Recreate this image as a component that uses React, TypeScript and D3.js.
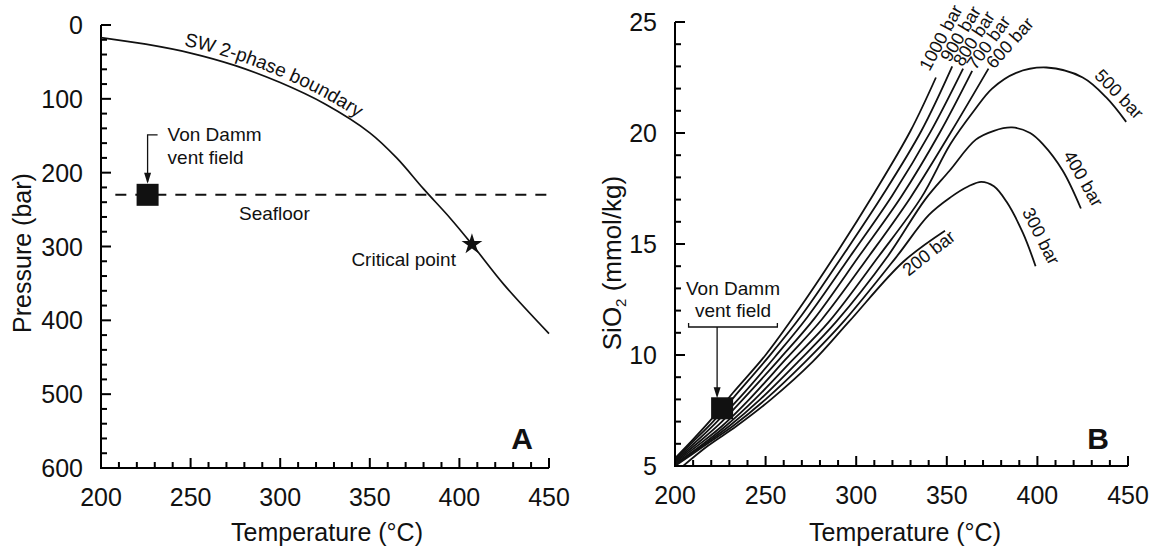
import React, { useEffect, useRef } from "react";
import * as d3 from "d3";

const W = 1156;
const H = 548;
const FONT = '"Liberation Sans", Arial, Helvetica, sans-serif';
const INK = "#111";

// ---- panel A: seawater 2-phase boundary ----
const boundaryT = [200, 225, 250, 275, 300, 325, 350, 365, 380, 395, 407, 425, 450];
const boundaryP = [17, 26, 38, 55, 78, 107, 146, 180, 222, 262, 297, 352, 418];
const seafloorP = 230;
const seafloorT = [208, 451];
const ventT = 226;
const ventP = 230;
const criticalT = 407;
const criticalP = 297;

const tempTicks = [200, 250, 300, 350, 400, 450];
const pressureTicks = [0, 100, 200, 300, 400, 500, 600];
const silicaTicks = [5, 10, 15, 20, 25];

// ---- panel B: SiO2 (mmol/kg) vs temperature, one curve per pressure ----
const bar1000 = [[200, 5.35], [210, 6.2], [220, 7.1], [232, 8.3], [250, 10.0], [267, 11.9], [290, 14.7], [310, 17.3], [330, 20.1], [344, 22.5]];
const bar900 = [[200, 5.3], [210, 6.1], [221, 7.0], [233, 8.15], [252, 9.95], [270, 11.8], [294, 14.65], [315, 17.25], [336, 20.1], [353, 23.0]];
const bar800 = [[200, 5.25], [211, 6.05], [222, 6.9], [236, 8.1], [255, 9.9], [273, 11.7], [298, 14.6], [320, 17.2], [341, 20.05], [359, 22.9]];
const bar700 = [[200, 5.2], [212, 6.0], [224, 6.85], [238, 8.05], [258, 9.85], [277, 11.65], [302, 14.5], [325, 17.15], [346, 20.0], [364, 22.8]];
const bar600 = [[200, 5.15], [213, 5.95], [226, 6.8], [241, 8.0], [261, 9.8], [281, 11.6], [307, 14.45], [330, 17.1], [352, 20.0], [373, 22.9]];
const bar500 = [[200, 5.1], [214, 5.9], [228, 6.8], [244, 8.0], [264, 9.7], [285, 11.5], [312, 14.4], [336, 17.1], [352, 19.5], [365, 21.0], [375, 22.0], [388, 22.7], [405, 22.95], [425, 22.5], [438, 21.6], [449, 20.5]];
const bar400 = [[200, 5.05], [215, 5.9], [230, 6.8], [247, 8.0], [268, 9.7], [289, 11.5], [317, 14.4], [338, 17.0], [351.5, 18.3], [366, 19.7], [376, 20.1], [386, 20.25], [396, 20.0], [403, 19.5], [414, 18.3], [424, 16.6]];
const bar300 = [[200, 5.0], [216, 5.9], [232, 6.8], [250, 8.0], [272, 9.7], [293, 11.5], [322, 14.4], [340, 16.3], [352, 17.1], [362, 17.6], [369, 17.8], [376, 17.6], [383, 16.9], [392, 15.5], [399, 14.0]];
const bar200 = [[203, 4.9], [218, 5.9], [234, 6.8], [253, 8.0], [276, 9.7], [296, 11.5], [326, 14.2], [349, 15.6]];

const curvesB = [bar1000, bar900, bar800, bar700, bar600, bar500, bar400, bar300, bar200];
const curveNames = ["1000 bar", "900 bar", "800 bar", "700 bar", "600 bar", "500 bar", "400 bar", "300 bar", "200 bar"];
const labelT = [340.5, 351.8, 358.6, 365.8, 376, 431, 414, 391.3, 328.8];
const labelS = [22.75, 23.15, 22.95, 22.8, 22.85, 22.55, 19.0, 16.45, 13.53];
const labelAngle = [-62, -59, -57, -54, -48, 46, 60, 63, -38];

const ventBT = 226;
const ventBS = 7.6;
const bracketT = [207.5, 256.5];

// axis line plus inward major / minor ticks and labels
function drawAxes(g, x, y, xMinor, yMinor, xTicks, yTicks) {
  const bottom = Math.max(...y.range());
  const top = Math.min(...y.range());
  const left = x.range()[0];
  const right = x.range()[1];

  const xt = xMinor.map((d) => ({ p: x(d), len: xTicks.indexOf(d) >= 0 ? 10 : 6 }));
  const yt = yMinor.map((d) => ({ p: y(d), len: yTicks.indexOf(d) >= 0 ? 10 : 6 }));

  g.append("g").selectAll("rect")
    .data(xt)
    .join("rect")
    .attr("x", (d) => d.p - 1).attr("y", (d) => bottom - d.len)
    .attr("width", 2).attr("height", (d) => d.len)
    .attr("fill", "#000");

  g.append("g").selectAll("rect")
    .data(yt)
    .join("rect")
    .attr("x", left).attr("y", (d) => d.p - 1)
    .attr("width", (d) => d.len).attr("height", 2)
    .attr("fill", "#000");

  g.append("path")
    .attr("d", `M${left},${top} V${bottom} H${right}`)
    .attr("fill", "none").attr("stroke", "#000").attr("stroke-width", 2);

  g.append("g").selectAll("text")
    .data(xTicks)
    .join("text")
    .attr("x", (d) => x(d)).attr("y", bottom + 38)
    .attr("text-anchor", "middle")
    .attr("font-family", FONT).attr("font-size", 25).attr("fill", INK)
    .text((d) => d);

  g.append("g").selectAll("text")
    .data(yTicks)
    .join("text")
    .attr("x", left - 18).attr("y", (d) => y(d) + 9)
    .attr("text-anchor", "end")
    .attr("font-family", FONT).attr("font-size", 25).attr("fill", INK)
    .text((d) => d);
}

function arrowHead(g, x, y) {
  g.append("path")
    .attr("d", `M${x},${y} L${x - 3.5},${y - 11} L${x + 3.5},${y - 11} Z`)
    .attr("fill", INK);
}

export default function App() {
  const svgRef = useRef(null);

  useEffect(() => {
    const svg = d3.select(svgRef.current);
    svg.selectAll("*").remove();

    // ================= panel A =================
    const xA = d3.scaleLinear().domain([200, 450]).range([101, 549]);
    const yA = d3.scaleLinear().domain([0, 600]).range([25, 468]);
    const gA = svg.append("g");

    drawAxes(gA, xA, yA, d3.range(200, 451, 10), d3.range(0, 601, 20), tempTicks, pressureTicks);

    const boundary = boundaryT.map((t, i) => [t, boundaryP[i]]);
    const lineA = d3.line().x((d) => xA(d[0])).y((d) => yA(d[1])).curve(d3.curveCatmullRom.alpha(0.5));
    gA.append("path").attr("d", lineA(boundary)).attr("fill", "none").attr("stroke", INK).attr("stroke-width", 1.7);

    // label following the boundary
    const labelLine = d3.line().x((d) => xA(d[0])).y((d) => yA(d[1]) - 6).curve(d3.curveCatmullRom.alpha(0.5));
    const guide = gA.append("path").attr("id", "swGuide").attr("d", labelLine(boundary)).attr("fill", "none").attr("stroke", "none");
    const node = guide.node();
    let start = 0;
    const total = node.getTotalLength();
    while (start < total && node.getPointAtLength(start).x < 183) start += 1;
    gA.append("text")
      .attr("font-family", FONT).attr("font-size", 19).attr("fill", INK)
      .append("textPath").attr("href", "#swGuide").attr("startOffset", start)
      .text("SW 2-phase boundary");

    // seafloor
    gA.append("line")
      .attr("x1", xA(seafloorT[0])).attr("x2", xA(seafloorT[1]))
      .attr("y1", yA(seafloorP)).attr("y2", yA(seafloorP))
      .attr("stroke", INK).attr("stroke-width", 2).attr("stroke-dasharray", "11,9");
    gA.append("text")
      .attr("x", xA(277)).attr("y", yA(seafloorP) + 25)
      .attr("font-family", FONT).attr("font-size", 19).attr("fill", INK)
      .text("Seafloor");

    // Von Damm marker
    const vx = xA(ventT);
    const vy = yA(ventP);
    gA.append("rect").attr("x", vx - 11).attr("y", vy - 11).attr("width", 22).attr("height", 22).attr("fill", INK);
    gA.append("path")
      .attr("d", `M${vx + 10},${vy - 60} H${vx} V${vy - 13}`)
      .attr("fill", "none").attr("stroke", INK).attr("stroke-width", 1.3);
    arrowHead(gA, vx, vy - 11);
    gA.append("text").attr("x", vx + 20).attr("y", vy - 54)
      .attr("font-family", FONT).attr("font-size", 19).attr("fill", INK).text("Von Damm");
    gA.append("text").attr("x", vx + 20).attr("y", vy - 31)
      .attr("font-family", FONT).attr("font-size", 19).attr("fill", INK).text("vent field");

    // critical point
    gA.append("path")
      .attr("d", d3.symbol().type(d3.symbolStar).size(135)())
      .attr("transform", `translate(${xA(criticalT)},${yA(criticalP)})`)
      .attr("fill", INK);
    gA.append("text")
      .attr("x", xA(criticalT) - 16).attr("y", yA(criticalP) + 22)
      .attr("text-anchor", "end")
      .attr("font-family", FONT).attr("font-size", 19).attr("fill", INK)
      .text("Critical point");

    gA.append("text").attr("x", 327).attr("y", 541).attr("text-anchor", "middle")
      .attr("font-family", FONT).attr("font-size", 25).attr("fill", INK).text("Temperature (°C)");
    gA.append("text").attr("transform", "translate(31,253) rotate(-90)").attr("text-anchor", "middle")
      .attr("font-family", FONT).attr("font-size", 25).attr("fill", INK).text("Pressure (bar)");
    gA.append("text").attr("x", 522).attr("y", 449).attr("text-anchor", "middle")
      .attr("font-family", FONT).attr("font-size", 30).attr("font-weight", "bold").attr("fill", INK).text("A");

    // ================= panel B =================
    const xB = d3.scaleLinear().domain([200, 450]).range([675, 1128]);
    const yB = d3.scaleLinear().domain([5, 25]).range([466, 22]);
    const gB = svg.append("g");

    svg.append("clipPath").attr("id", "clipB")
      .append("rect").attr("x", 675).attr("y", 0).attr("width", 480).attr("height", 466);

    const lineB = d3.line().x((d) => xB(d[0])).y((d) => yB(d[1])).curve(d3.curveCatmullRom.alpha(0.5));
    gB.append("g").attr("clip-path", "url(#clipB)")
      .selectAll("path")
      .data(curvesB)
      .join("path")
      .attr("d", lineB)
      .attr("fill", "none")
      .attr("stroke", INK)
      .attr("stroke-width", 1.8);

    drawAxes(gB, xB, yB, d3.range(200, 451, 10), d3.range(5, 26, 1), tempTicks, silicaTicks);

    gB.selectAll("text.bar")
      .data(curveNames)
      .join("text")
      .attr("class", "bar")
      .attr("transform", (d, i) => `translate(${xB(labelT[i])},${yB(labelS[i])}) rotate(${labelAngle[i]})`)
      .attr("font-family", FONT).attr("font-size", 18).attr("fill", INK)
      .text((d) => d);

    // Von Damm marker
    const bx = xB(ventBT);
    const by = yB(ventBS);
    gB.append("rect").attr("x", bx - 11).attr("y", by - 11).attr("width", 22).attr("height", 22).attr("fill", INK);
    const brY = 327;
    gB.append("path")
      .attr("d", `M${xB(bracketT[0])},${brY - 4} V${brY} H${xB(bracketT[1])} V${brY - 4}`)
      .attr("fill", "none").attr("stroke", INK).attr("stroke-width", 1.3);
    gB.append("line").attr("x1", bx - 5).attr("x2", bx - 5).attr("y1", brY).attr("y2", by - 20)
      .attr("stroke", INK).attr("stroke-width", 1.3);
    arrowHead(gB, bx - 5, by - 10);
    gB.append("text").attr("x", (xB(bracketT[0]) + xB(bracketT[1])) / 2).attr("y", brY - 32)
      .attr("text-anchor", "middle").attr("font-family", FONT).attr("font-size", 19).attr("fill", INK).text("Von Damm");
    gB.append("text").attr("x", (xB(bracketT[0]) + xB(bracketT[1])) / 2).attr("y", brY - 10)
      .attr("text-anchor", "middle").attr("font-family", FONT).attr("font-size", 19).attr("fill", INK).text("vent field");

    gB.append("text").attr("x", 905).attr("y", 541).attr("text-anchor", "middle")
      .attr("font-family", FONT).attr("font-size", 25).attr("fill", INK).text("Temperature (°C)");
    const ytl = gB.append("text").attr("transform", "translate(621,263) rotate(-90)").attr("text-anchor", "middle")
      .attr("font-family", FONT).attr("font-size", 26).attr("fill", INK);
    ytl.append("tspan").text("SiO");
    ytl.append("tspan").attr("font-size", 15).attr("dy", 5).text("2");
    ytl.append("tspan").attr("dy", -5).text(" (mmol/kg)");
    gB.append("text").attr("x", 1098).attr("y", 449).attr("text-anchor", "middle")
      .attr("font-family", FONT).attr("font-size", 30).attr("font-weight", "bold").attr("fill", INK).text("B");
  }, []);

  return (
    <svg
      ref={svgRef}
      width={W}
      height={H}
      style={{ position: "absolute", left: 0, top: 0, background: "#fff" }}
    />
  );
}
